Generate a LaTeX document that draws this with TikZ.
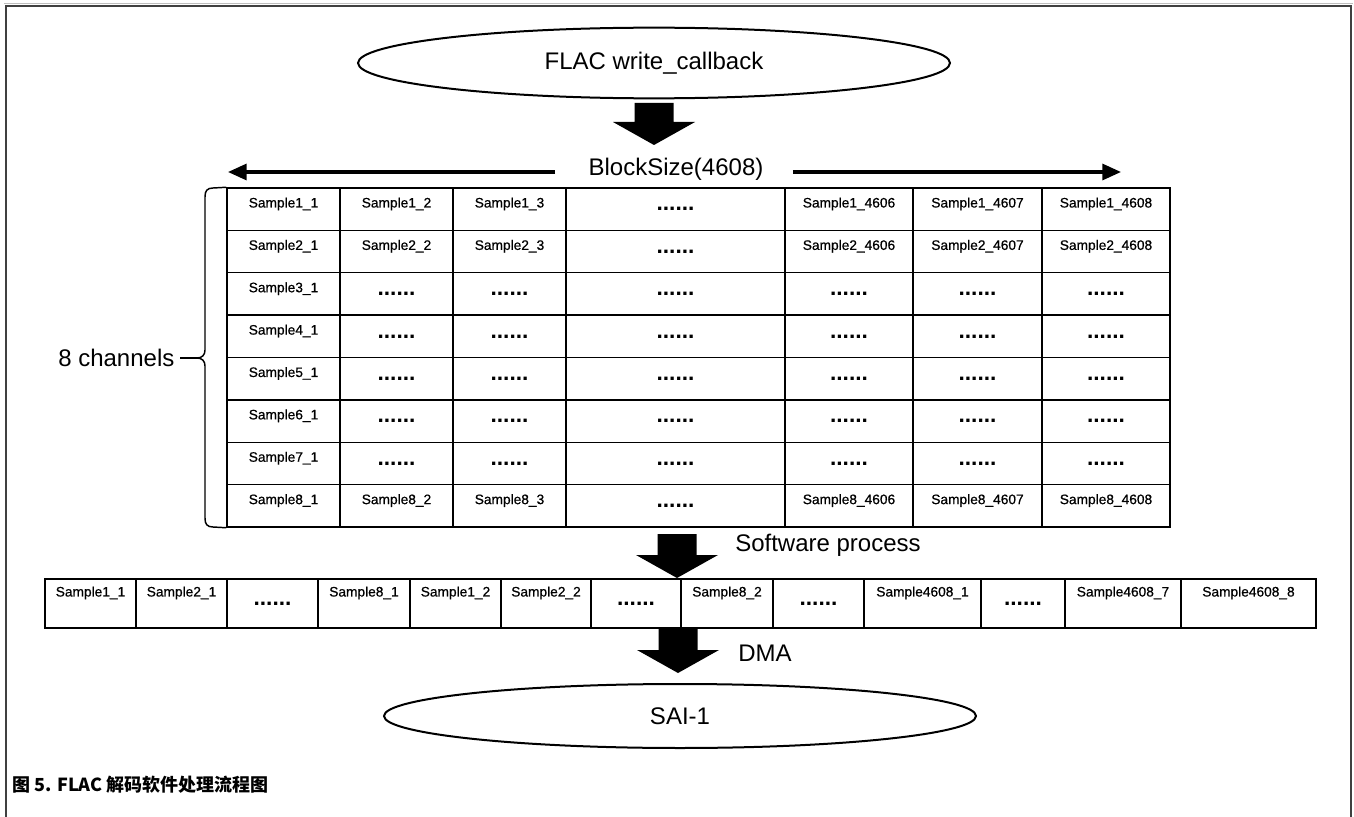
\documentclass[tikz,border=0pt]{standalone}
\usepackage{fontspec}
\setmainfont{Liberation Sans}
\newfontfamily\cjk{Noto Sans CJK SC}
\newfontfamily\smpfont[FakeBold=0.6]{Liberation Sans}
\usetikzlibrary{positioning, calc, shapes.geometric, arrows.meta}

\newcommand{\blockarrow}[4]{%
  \fill (#1-19.5,#2) -- (#1+19.5,#2) -- (#1+19.5,#3) -- (#1+41,#3) -- (#1,#4)
    -- (#1-41,#3) -- (#1-19.5,#3) -- cycle;}

\begin{document}
\begin{tikzpicture}
  [x=0.75pt, y=-0.75pt,
   big/.style = {font=\fontsize{18}{20}\selectfont, inner sep=1pt},
   oval/.style = {draw, ellipse, line width=1.5pt, minimum width=444pt, inner sep=0pt},
   cell/.style = {draw, line width=1.1pt, rectangle, inner sep=0pt},
   smp/.style = {font=\smpfont\fontsize{10.3}{12}\selectfont, anchor=north, inner ysep=7.5pt, inner xsep=0pt},
   dots/.style = {font=\bfseries\fontsize{17}{18}\selectfont, inner sep=0pt},
   dim/.style = {line width=2.4pt, -{Triangle[length=14pt, width=12pt]}},
   brace/.style = {line width=1.1pt}]
  \useasboundingbox (0,0) rectangle (1354,817);
  \draw[black!25, line width=0.8pt] (4,3.5) -- (1353,3.5);
  \draw[line width=1.9pt, black!75] (6,817) -- (6,6) -- (1351,6) -- (1351,817);

  \node[oval, minimum height=53pt, big] (cb) at (654,63) {FLAC write\_callback};
  \blockarrow{654}{103}{122}{145}

  \node[big] (bs) at (676,169) {BlockSize(4608)};
  \coordinate (bsl) at (228,172);
  \coordinate (bsr) at (1121,172);
  \draw[dim] ($(bs.west |- bsl)+(-32,0)$) -- (bsl);
  \draw[dim] ($(bs.east |- bsr)+(28,0)$) -- (bsr);

  \foreach \r in {1,...,8}{
    \foreach \c/\xl/\xr/\n in {1/227/340/1, 2/340/453/2, 3/453/566/3, 4/566/785/0,
                               5/785/913/4606, 6/913/1042/4607, 7/1042/1170/4608}{
      \pgfmathsetmacro\yt{188+42.375*(\r-1)}
      \pgfmathsetmacro\w{(\xr-\xl)*0.75}
      \node[cell, minimum width=\w pt, minimum height=31.78pt] (t\r-\c) at ({(\xl+\xr)/2},{\yt+21.19}) {};
      \pgfmathtruncatemacro\full{(\c==1)||((\c!=4)&&((\r<3)||(\r==8)))}
      \ifnum\full=1
        \node[smp] (t\r-\c-txt) at (t\r-\c.north) {Sample\r\_\n};
      \else
        \node[dots] (t\r-\c-txt) at (t\r-\c) {......};
      \fi
    }
  }

  \coordinate (brtip) at (197,358);
  \draw[brace] (t1-1.north west) -- (213,188) .. controls (207,188) and (205,191) .. (205,197)
    -- (205,350) .. controls (205,355) and (202,358) .. (brtip)
    .. controls (202,358) and (205,361) .. (205,366)
    -- (205,518) .. controls (205,524) and (207,527) .. (213,527) -- (t8-1.south west);
  \node[big, anchor=east] (ch) at (176,358) {8 channels};
  \draw[brace] ($(ch.east)+(4,0)$) -- (brtip);

  \blockarrow{677}{534}{555}{578}
  \node[big] (sw) at (828,545) {Software process};

  \foreach \c/\xl/\xr/\k/\lab in {1/45/136/1/Sample1\_1, 2/136/227/1/Sample2\_1, 3/227/318/0/,
      4/318/410/1/Sample8\_1, 5/410/501/1/Sample1\_2, 6/501/591/1/Sample2\_2, 7/591/681/0/,
      8/681/773/1/Sample8\_2, 9/773/864/0/, 10/864/981/1/Sample4608\_1, 11/981/1065/0/,
      12/1065/1181/1/Sample4608\_7, 13/1181/1316/1/Sample4608\_8}{
    \pgfmathsetmacro\w{(\xr-\xl)*0.75}
    \node[cell, minimum width=\w pt, minimum height=36.75pt] (b\c) at ({(\xl+\xr)/2},603.5) {};
    \ifnum\k=1
      \node[smp, inner ysep=6pt] (b\c-txt) at (b\c.north) {\lab};
    \else
      \node[dots] (b\c-txt) at (b\c) {......};
    \fi
  }

  \blockarrow{678}{628}{650}{673}
  \node[big] (dma) at (765,653) {DMA};
  \node[oval, minimum height=48pt, big] (sai) at (680,716) {SAI-1};

  \node[anchor=west, inner sep=0pt, font=\cjk\bfseries\fontsize{13.5}{16}\selectfont] (cap) at (12,785)
    {图 5. FLAC 解码软件处理流程图};
\end{tikzpicture}
\end{document}
